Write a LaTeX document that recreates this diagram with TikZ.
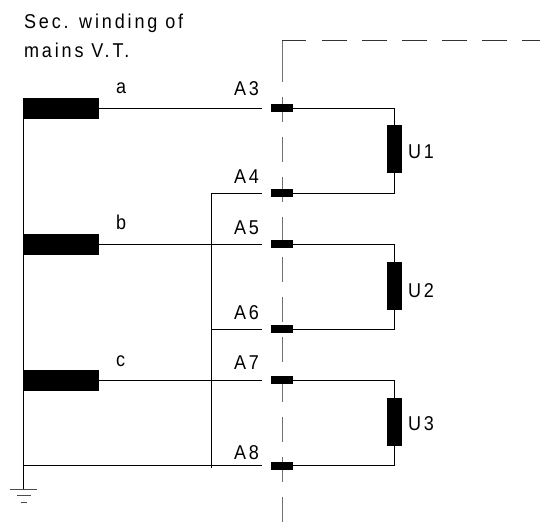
\documentclass[tikz,border=0pt]{standalone}
\usepackage{fontspec}
\setmainfont{Liberation Sans}
\newfontfamily\lab[LetterSpace=14.4,FakeStretch=0.9]{Liberation Sans}
\definecolor{dashgray}{HTML}{707070}
\tikzset{
  wire/.style={line width=0.9pt,line cap=butt,draw=black},
  bound/.style={line width=1pt,draw=dashgray},
  boundh/.style={line width=0.9pt,draw=black!80},
  winding/.style={fill=black,draw=none,minimum width=76pt,minimum height=21pt,inner sep=0pt,outer sep=0pt},
  terminal/.style={fill=black,draw=none,minimum width=22pt,minimum height=8pt,inner sep=0pt,outer sep=0pt},
  burden/.style={fill=black,draw=none,minimum width=15pt,minimum height=48pt,inner sep=0pt,outer sep=0pt},
  lbl/.style={anchor=base west,inner sep=0pt,outer sep=0pt,font=\fontsize{20}{20}\selectfont\lab}
}
\begin{document}
\begin{tikzpicture}[x=1pt,y=-1pt]
\useasboundingbox (0,0) rectangle (540,522);
% panel boundary
\coordinate (c0) at (282,82);
\coordinate (c1) at (282,40);
\coordinate (c2) at (306,40);
\coordinate (c3) at (322,40);
\coordinate (c4) at (540,40);
\coordinate (c5) at (282,97);
\coordinate (c6) at (282,522);
\draw[bound] (c0) -- (c1);
\draw[boundh] (c1) -- (c2);
\draw[boundh,dash pattern=on 25pt off 15pt] (c3) -- (c4);
\draw[bound,dash pattern=on 25pt off 15pt] (c5) -- (c6);
% windings
\node[winding] (wa) at (61,108.5) {};
\node[winding] (wb) at (61,244.5) {};
\node[winding] (wc) at (61,380.5) {};
% terminals
\node[terminal] (t3) at (282,108) {};
\node[terminal] (t4) at (282,193) {};
\node[terminal] (t5) at (282,244) {};
\node[terminal] (t6) at (282,329) {};
\node[terminal] (t7) at (282,380) {};
\node[terminal] (t8) at (282,465.5) {};
% burdens
\node[burden] (u1) at (394.5,149) {};
\node[burden] (u2) at (394.5,285.5) {};
\node[burden] (u3) at (394.5,421.5) {};
% free ends
\coordinate (e3) at (262,108);
\coordinate (e4) at (262,193);
\coordinate (e5) at (262,244);
\coordinate (e6) at (262,329);
\coordinate (e7) at (262,380);
\coordinate (e8) at (262,465.5);
\coordinate (n4) at (211,193);
\coordinate (n6) at (211,329);
\coordinate (n8) at (211,468);
\coordinate (gl) at (23.5,98);
\coordinate (g8) at (23.5,465.5);
\coordinate (g0) at (23.5,489);
\coordinate (g1l) at (10,489);
\coordinate (g1r) at (37,489);
\coordinate (g2l) at (17,495.5);
\coordinate (g2r) at (31,495.5);
\coordinate (g3l) at (20.5,502);
\coordinate (g3r) at (27,502);
% connectors
\draw[wire] (wa.east |- e3) -- (e3);
\draw[wire] (wb.east |- e5) -- (e5);
\draw[wire] (wc.east |- e7) -- (e7);
\draw[wire] (g8) -- (e8);
\draw[wire] (gl) -- (g0);
\draw[wire] (e4) -- (n4) -- (n8);
\draw[wire] (n6) -- (e6);
\draw[wire] (t3.east) -| (u1.north);
\draw[wire] (t4.east) -| (u1.south);
\draw[wire] (t5.east) -| (u2.north);
\draw[wire] (t6.east) -| (u2.south);
\draw[wire] (t7.east) -| (u3.north);
\draw[wire] (t8.east) -| (u3.south);
% earth
\draw[wire,draw=black!70] (g1l) -- (g1r);
\draw[wire,draw=black!70] (g2l) -- (g2r);
\draw[wire,draw=black!70] (g3l) -- (g3r);
% labels
\node[lbl] (title1) at (24,28.5) {Sec. winding of};
\node[lbl] (title2) at (24,57.5) {mains V.T.};
\node[lbl] (la) at (116,93) {a};
\node[lbl] (lb) at (116,229) {b};
\node[lbl] (lc) at (116,366) {c};
\node[lbl] (l3) at (234,95) {A3};
\node[lbl] (l4) at (234,183) {A4};
\node[lbl] (l5) at (234,234) {A5};
\node[lbl] (l6) at (234,319) {A6};
\node[lbl] (l7) at (234,369) {A7};
\node[lbl] (l8) at (234,459) {A8};
\node[lbl] (lu1) at (408,158) {U1};
\node[lbl] (lu2) at (408,297) {U2};
\node[lbl] (lu3) at (408,430) {U3};
\end{tikzpicture}
\end{document}
